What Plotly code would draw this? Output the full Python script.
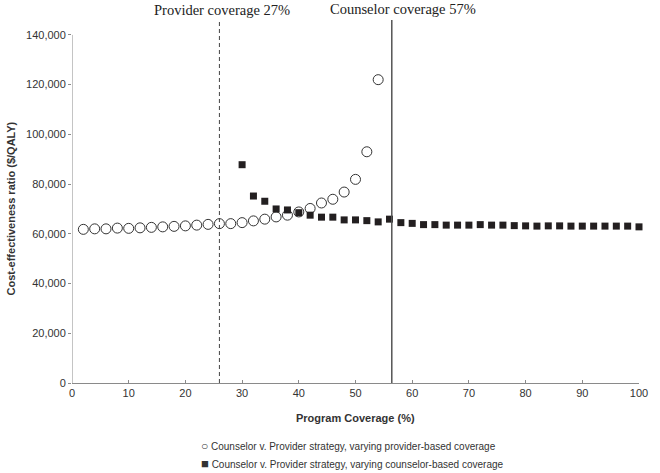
import plotly.graph_objects as go

provider_x = list(range(2, 56, 2))
provider_y = [61800, 62000, 62000, 62300, 62200, 62400, 62600, 62800, 63000, 63200,
              63500, 63800, 64100, 64100, 64500, 65200, 65900, 66800, 67500, 68800,
              70200, 72400, 73900, 76800, 81900, 93000, 122000]

counselor_x = list(range(30, 102, 2))
counselor_y = [87800, 75200, 73100, 70000, 69600, 68500, 67500, 66700, 66700, 65600,
               65600, 65300, 64800, 65900, 64500, 64200, 63700, 63700, 63500, 63500,
               63500, 63700, 63500, 63500, 63300, 63200, 63100, 63200, 63200, 63100,
               63100, 63100, 63100, 63100, 63100, 62800]

provider_cov = 26.0
counselor_cov = 56.4
ref_labels = ["Provider coverage 27%", "Counselor coverage 57%"]
legend_labels = ["Counselor v. Provider strategy, varying provider-based coverage",
                 "Counselor v. Provider strategy, varying counselor-based coverage"]
y_ticks = list(range(0, 140001, 20000))
x_ticks = list(range(0, 101, 10))

AX = "#8a8a8a"
TXT = "#333333"

fig = go.Figure()
fig.add_trace(go.Scatter(
    x=provider_x, y=provider_y, mode="markers", name=legend_labels[0],
    marker=dict(symbol="circle-open", size=10, color="#333333", line=dict(width=1, color="#333333")),
    cliponaxis=False,
))
fig.add_trace(go.Scatter(
    x=counselor_x, y=counselor_y, mode="markers", name=legend_labels[1],
    marker=dict(symbol="square", size=7, color="#231f20"),
    cliponaxis=False,
))

# reference lines
fig.add_shape(type="line", x0=provider_cov, x1=provider_cov, y0=0, y1=146000,
              xref="x", yref="y", line=dict(color="#444444", width=1, dash="4px,3px"))
fig.add_shape(type="line", x0=counselor_cov, x1=counselor_cov, y0=0, y1=146000,
              xref="x", yref="y", line=dict(color="#555555", width=1.5))
# y axis line (only up to 140,000)
fig.add_shape(type="line", x0=0, x1=0, y0=0, y1=140000, xref="x", yref="y",
              line=dict(color=AX, width=1))

fig.add_annotation(text=ref_labels[0], x=provider_cov + 0.5, y=1.0275, xref="x", yref="paper",
                   showarrow=False, xanchor="center", yanchor="middle",
                   font=dict(family="Liberation Serif", size=14.5, color="#222222"))
fig.add_annotation(text=ref_labels[1], x=counselor_cov + 1.9, y=1.029, xref="x", yref="paper",
                   showarrow=False, xanchor="center", yanchor="middle",
                   font=dict(family="Liberation Serif", size=14.5, color="#222222"))

# axis titles
fig.add_annotation(text="<b>Cost-effectiveness ratio ($/QALY)</b>", x=-0.108, y=0.48,
                   xref="paper", yref="paper", showarrow=False, textangle=-90,
                   xanchor="center", yanchor="middle",
                   font=dict(family="Liberation Sans", size=11, color=TXT))
fig.add_annotation(text="<b>Program Coverage (%)</b>", x=0.5, y=-0.0963,
                   xref="paper", yref="paper", showarrow=False,
                   xanchor="center", yanchor="middle",
                   font=dict(family="Liberation Sans", size=11, color=TXT))

# legend as text
fig.add_annotation(text="<span style='font-size:12px'>○</span> " + legend_labels[0],
                   x=0.2234, y=-0.174, xref="paper", yref="paper",
                   showarrow=False, xanchor="left", yanchor="middle",
                   font=dict(family="Liberation Sans", size=10, color=TXT))
fig.add_annotation(text="<span style='font-size:13px'>■</span> " + legend_labels[1],
                   x=0.2234, y=-0.2215, xref="paper", yref="paper",
                   showarrow=False, xanchor="left", yanchor="middle",
                   font=dict(family="Liberation Sans", size=10, color=TXT))

fig.update_layout(
    width=660, height=473,
    margin=dict(l=72, r=12, t=20, b=90),
    paper_bgcolor="white", plot_bgcolor="white",
    showlegend=False,
    font=dict(family="Liberation Sans", size=11, color=TXT),
)
fig.update_xaxes(range=[0, 100], tickvals=x_ticks, ticks="inside", ticklen=3,
                 tickcolor=AX, showline=True, linecolor=AX, linewidth=1,
                 showgrid=False, zeroline=False,
                 tickfont=dict(family="Liberation Sans", size=11, color=TXT))
fig.update_yaxes(range=[0, 146000], tickvals=y_ticks, tickformat=",", ticks="outside",
                 ticklen=3, tickcolor=AX, showline=False, showgrid=False, zeroline=False,
                 tickfont=dict(family="Liberation Sans", size=11, color=TXT))

fig.write_html("out.html", config={"displayModeBar": False},
               post_script="document.body.style.margin='0px';document.body.style.overflow='hidden';")
